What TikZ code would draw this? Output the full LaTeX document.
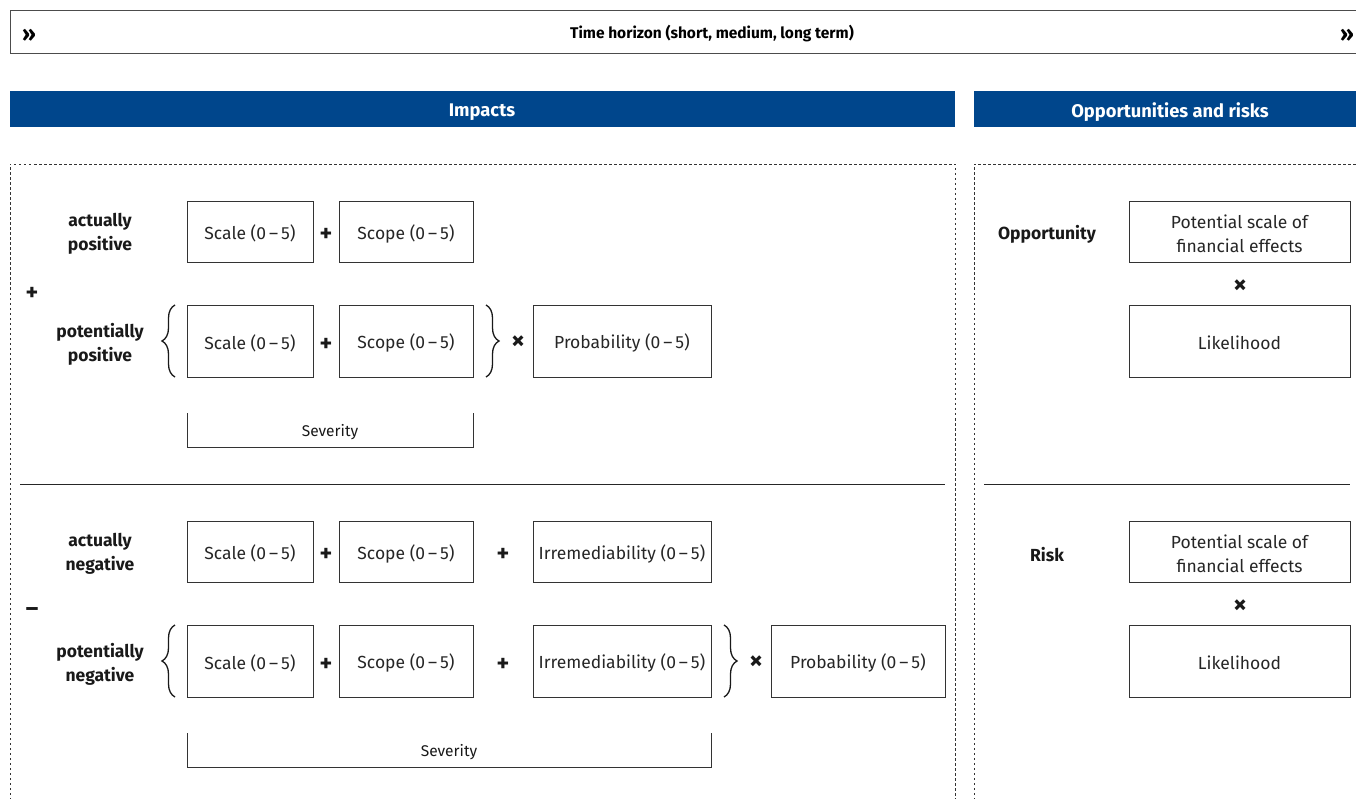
\documentclass[tikz,border=0pt]{standalone}
\usepackage{fontspec}
\setmainfont{Fira Sans}
\usetikzlibrary{decorations.pathreplacing}
\definecolor{bblue}{HTML}{00468C}
\definecolor{lgray}{HTML}{333333}
\newcommand\boxat[6]{\node[bx,minimum width={(#4-#2)*1pt},minimum height={(#5-#3)*1pt}] (#1) at ({(#2+#4)/2},{(#3+#5)/2}) {};
  \node[bxt] (#1t) at ([yshift=-2pt]#1.center) {#6};}
\begin{document}
\begin{tikzpicture}[x=1pt,y=-1pt,
  bx/.style={draw=lgray,line width=0.8pt,inner sep=0pt},
  bxt/.style={inner sep=0pt,align=center,font=\fontsize{17.5}{24}\selectfont,text=black!85},
  lbl/.style={font=\bfseries\fontsize{17.5}{24}\selectfont,align=center,text=black!90},
  op/.style={font=\bfseries\fontsize{24}{24}\selectfont,text=black!90},
  opx/.style={font=\bfseries\fontsize{27}{27}\selectfont,text=black!90},
  dsh/.style={draw=black!80,line width=0.7pt,dash pattern=on 2.5pt off 2.5pt},
  sev/.style={draw=lgray,line width=0.8pt},
  sevt/.style={font=\fontsize{15.5}{17}\selectfont,text=black!90},
  hd/.style={font=\bfseries\fontsize{18.3}{20}\selectfont,text=white},
  brc/.style={draw=black!90,line width=1.3pt,decorate,decoration={brace,amplitude=13pt}}]
\useasboundingbox (0,0) rectangle (1356,799);
% time horizon bar
\draw[draw=black!70,line width=0.8pt] (1360,10) -- (10,10) -- (10,53) -- (1360,53);
\node[font=\bfseries\fontsize{15.5}{17}\selectfont] (th) at (712,34) {Time horizon (short, medium, long term)};
\node[font=\bfseries\fontsize{22}{22}\selectfont] (al) at (29,35) {»};
\node[font=\bfseries\fontsize{22}{22}\selectfont] (ar) at (1347,35) {»};
% headers
\fill[bblue] (10,91) rectangle (955,127);
\node[hd] (himp) at (482,112) {Impacts};
\fill[bblue] (974,91) rectangle (1360,127);
\node[hd] (hopp) at (1170,112) {Opportunities and risks};
% dashed frames
\draw[dsh] (10,800) -- (10,164) -- (955,164) -- (955,800);
\draw[dsh] (974,800) -- (974,164) -- (1360,164);
% separators
\draw[line width=0.8pt,draw=black!85] (20,484) -- (945,484);
\draw[line width=0.8pt,draw=black!85] (984,484) -- (1350,484);
% upper impacts
\node[lbl] (ap) at (100,234) {actually\\positive};
\boxat{s1}{187}{201}{313}{262}{Scale (0\,–\,5)}
\node[op] (p1) at (326,234.5) {+};
\boxat{c1}{339}{201}{473}{262}{Scope (0\,–\,5)}
\node[op] (pl) at (32,293.5) {+};
\node[lbl] (pp) at (100,344) {potentially\\positive};
\boxat{s2}{187}{305}{313}{377}{Scale (0\,–\,5)}
\node[op] (p2) at (326,344.5) {+};
\boxat{c2}{339}{305}{473}{377}{Scope (0\,–\,5)}
\draw[brc] (175,377) -- (175,305);
\draw[brc] (486,305) -- (486,377);
\node[opx] (x1) at (518,342.5) {×};
\boxat{pr1}{533}{305}{711}{377}{Probability (0\,–\,5)}
\coordinate (sv1a) at (187,413);
\coordinate (sv1b) at (473,413);
\draw[sev] (sv1a) -- (187,447) -- (473,447) -- (sv1b);
\node[sevt] (sv1) at (330,432) {Severity};
% lower impacts
\node[lbl] (an) at (100,554) {actually\\negative};
\boxat{s3}{187}{521}{313}{582}{Scale (0\,–\,5)}
\node[op] (p3) at (326,554.5) {+};
\boxat{c3}{339}{521}{473}{582}{Scope (0\,–\,5)}
\node[op] (p4) at (503,554.5) {+};
\boxat{i3}{533}{521}{711}{582}{Irremediability (0\,–\,5)}
\node[op] (mi) at (32,612.5) {–};
\node[lbl] (pn) at (100,664) {potentially\\negative};
\boxat{s4}{187}{625}{313}{697}{Scale (0\,–\,5)}
\node[op] (p5) at (326,664.5) {+};
\boxat{c4}{339}{625}{473}{697}{Scope (0\,–\,5)}
\node[op] (p6) at (503,664.5) {+};
\boxat{i4}{533}{625}{711}{697}{Irremediability (0\,–\,5)}
\draw[brc] (175,697) -- (175,625);
\draw[brc] (724,625) -- (724,697);
\node[opx] (x2) at (756,662.5) {×};
\boxat{pr2}{771}{625}{945}{697}{Probability (0\,–\,5)}
\coordinate (sv2a) at (187,733);
\coordinate (sv2b) at (711,733);
\draw[sev] (sv2a) -- (187,767) -- (711,767) -- (sv2b);
\node[sevt] (sv2) at (449,752) {Severity};
% opportunities and risks
\node[lbl] (opp) at (1047,234.5) {Opportunity};
\boxat{o1}{1129}{201}{1350}{262}{Potential scale of\\financial effects}
\node[opx] (x3) at (1240,286.5) {×};
\boxat{o2}{1129}{305}{1350}{377}{Likelihood}
\node[lbl] (rsk) at (1047,554.5) {Risk};
\boxat{r1}{1129}{521}{1350}{582}{Potential scale of\\financial effects}
\node[opx] (x4) at (1240,606.5) {×};
\boxat{r2}{1129}{625}{1350}{697}{Likelihood}
\end{tikzpicture}
\end{document}
